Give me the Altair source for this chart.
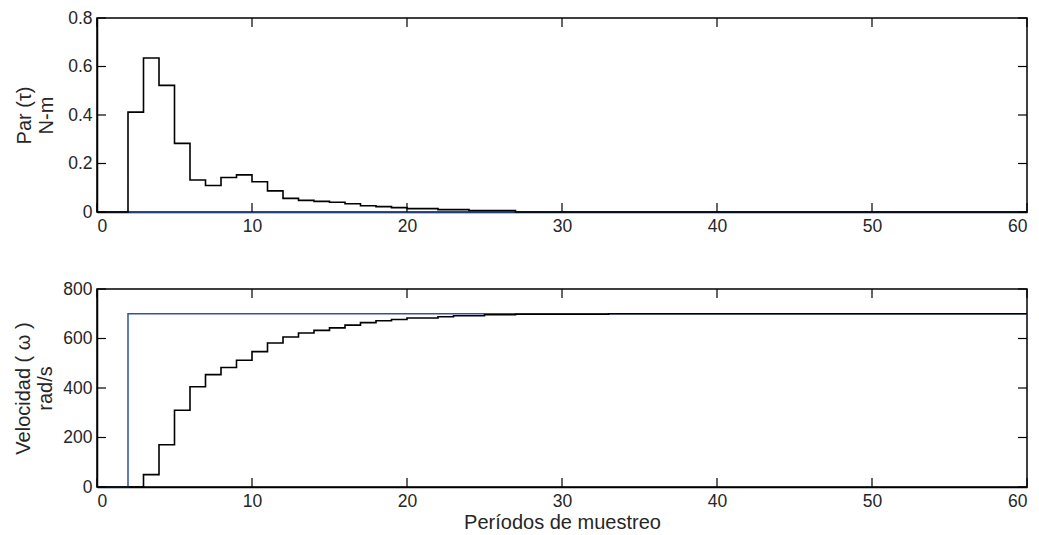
import altair as alt
import pandas as pd

# ---------------- data ----------------
k = list(range(61))

torque = [0, 0, 0.412, 0.635, 0.522, 0.283, 0.132, 0.109, 0.142, 0.153,
          0.125, 0.087, 0.056, 0.048, 0.044, 0.040, 0.034, 0.026, 0.022, 0.018,
          0.014, 0.014, 0.010, 0.010, 0.006, 0.006, 0.006] + [0] * 34

torque_ref = [0] * 61

speed = [0, 0, 0, 50, 171, 310, 405, 454, 483, 512,
         547, 582, 606, 622, 633, 643, 654, 664, 672, 677,
         683, 683, 688, 692, 692, 696, 696, 698, 698, 698,
         698, 698, 698] + [700] * 28

speed_ref = [0, 0] + [700] * 59

x_ticks = [0, 10, 20, 30, 40, 50, 60]
y_ticks_top = [0, 0.2, 0.4, 0.6, 0.8]
y_ticks_bot = [0, 200, 400, 600, 800]

W = 930
TL = 9
BLUE = "#2f52a5"
FONT = "Liberation Sans"
TXT = "#262626"

df_top = pd.DataFrame({"k": k, "tau": torque, "ref": torque_ref})
df_bot = pd.DataFrame({"k": k, "w": speed, "ref": speed_ref})


def panel(df, col, yticks, ymax, ytitle, yfmt, xtitle, tpad, H):
    xs = alt.Scale(domain=[0, 60], nice=False, zero=False)
    ys = alt.Scale(domain=[0, ymax], nice=False)
    xax = alt.Axis(values=x_ticks, tickSize=0, labelPadding=5, grid=False,
                   title=xtitle, titlePadding=3)
    yax = alt.Axis(values=yticks, tickSize=0, labelPadding=5, grid=False,
                   format=yfmt, title=ytitle, titlePadding=tpad)
    base = alt.Chart(df)
    ref = base.mark_line(interpolate="step-after", color=BLUE, strokeWidth=1.5).encode(
        x=alt.X("k:Q", scale=xs, axis=xax),
        y=alt.Y("ref:Q", scale=ys, axis=yax),
    )
    main = base.mark_line(interpolate="step-after", color="black", strokeWidth=1.6).encode(
        x=alt.X("k:Q", scale=xs),
        y=alt.Y(f"{col}:Q", scale=ys),
    )
    xt = pd.DataFrame({"xt": x_ticks})
    yt = pd.DataFrame({"yt": yticks})
    tick_style = dict(color="black", strokeWidth=1.2)
    xb = alt.Chart(xt).mark_rule(**tick_style).encode(
        x=alt.X("xt:Q", scale=xs), y=alt.value(H), y2=alt.value(H - TL))
    xtop = alt.Chart(xt).mark_rule(**tick_style).encode(
        x=alt.X("xt:Q", scale=xs), y=alt.value(0), y2=alt.value(TL))
    yl = alt.Chart(yt).mark_rule(**tick_style).encode(
        y=alt.Y("yt:Q", scale=ys), x=alt.value(0), x2=alt.value(TL))
    yr = alt.Chart(yt).mark_rule(**tick_style).encode(
        y=alt.Y("yt:Q", scale=ys), x=alt.value(W), x2=alt.value(W - TL))
    return alt.layer(ref, main, xb, xtop, yl, yr).properties(width=W, height=H)


top = panel(df_top, "tau", y_ticks_top, 0.8, ["Par (τ)", "N-m"], ".1~f", None, 11, 194)
bot = panel(df_bot, "w", y_ticks_bot, 800, ["Velocidad ( ω )", "rad/s"], "d",
            "Períodos de muestreo", 7, 198)

chart = alt.vconcat(top, bot, spacing=43).properties(
    padding={"left": 5, "top": 0, "right": 0, "bottom": 0}
).configure_view(
    stroke="black", strokeWidth=1.5
).configure_axis(
    domainColor="black", domainWidth=1.5,
    labelFont=FONT, labelFontSize=17.5, labelColor=TXT,
    titleFont=FONT, titleFontSize=20, titleFontWeight="normal", titleColor=TXT,
    titleLineHeight=22,
).configure_axisY(
    titleAngle=-90,
)

chart.save("out.html", embed_options={"renderer": "svg", "actions": False})
